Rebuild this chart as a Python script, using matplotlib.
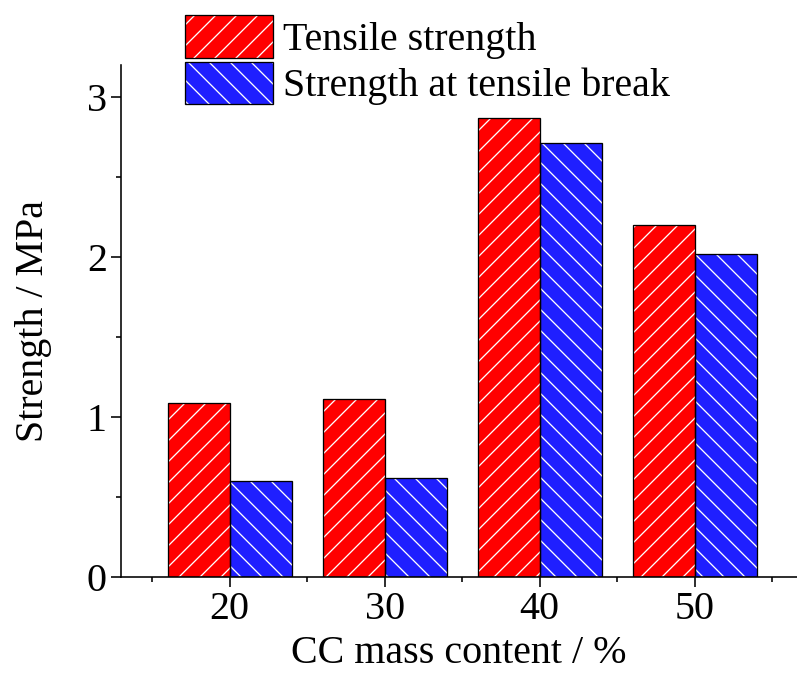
import matplotlib
matplotlib.use('Agg')
import matplotlib.pyplot as plt
from matplotlib.patches import Patch
from matplotlib.ticker import MultipleLocator

# CC mass content (%) and measured strengths (MPa)
content = [20, 30, 40, 50]
tensile = [1.09, 1.11, 2.87, 2.20]
at_break = [0.60, 0.62, 2.71, 2.02]
labels = ['Tensile strength', 'Strength at tensile break']

red = '#ff0000'
blue = '#1f1fff'
width = 4.0

# dpi picked so that the hatch cell matches the spacing of the original,
# sizes below are given in pixels and converted to points
dpi = 63


def px(v):
    return v * 72.0 / dpi


plt.rcParams['font.family'] = ['Liberation Serif', 'DejaVu Serif']
plt.rcParams['hatch.linewidth'] = px(1.3)
fs = px(40)

fig = plt.figure(figsize=(797 / dpi, 673 / dpi), dpi=dpi)
ax = fig.add_axes([121 / 797, 96 / 673, 676 / 797, 512 / 673])

x1 = [c - width / 2 for c in content]
x2 = [c + width / 2 for c in content]

# fill + white hatch, then black outline on top
ax.bar(x1, tensile, width, color=red, edgecolor='white', hatch='/', linewidth=0)
ax.bar(x2, at_break, width, color=blue, edgecolor='white', hatch='\\', linewidth=0)
ax.bar(x1, tensile, width, fill=False, edgecolor='black', linewidth=px(1.3))
ax.bar(x2, at_break, width, fill=False, edgecolor='black', linewidth=px(1.3))

ax.set_xlim(13.0, 56.6)
ax.set_ylim(0, 3.2)
ax.xaxis.set_major_locator(MultipleLocator(10))
ax.xaxis.set_minor_locator(MultipleLocator(5))
ax.yaxis.set_major_locator(MultipleLocator(1))
ax.yaxis.set_minor_locator(MultipleLocator(0.5))
ax.set_xticks(content)

for s in ['top', 'right']:
    ax.spines[s].set_visible(False)
for s in ['left', 'bottom']:
    ax.spines[s].set_linewidth(px(1.6))

ax.tick_params(which='major', direction='out', length=px(10), width=px(1.6),
               labelsize=fs, pad=px(4))
ax.tick_params(which='minor', direction='out', length=px(5), width=px(1.6))

ax.set_xlabel('CC mass content / %', fontsize=fs, labelpad=px(7))
ax.set_ylabel('Strength / MPa', fontsize=fs, labelpad=px(35))

fills = [Patch(facecolor=red, edgecolor='white', hatch='/', linewidth=0),
         Patch(facecolor=blue, edgecolor='white', hatch='\\', linewidth=0)]
outline = Patch(fill=False, edgecolor='black', linewidth=px(1.3))
handles = [(fills[0], outline), (fills[1], outline)]
fig.legend(handles, labels, loc='upper left',
           bbox_to_anchor=(185 / 797, 1 - 15 / 673),
           frameon=False, fontsize=fs, borderpad=0, borderaxespad=0,
           handlelength=2.2, handleheight=1.27, handletextpad=0.25,
           labelspacing=0.07)

fig.savefig('out.png', dpi=dpi)
